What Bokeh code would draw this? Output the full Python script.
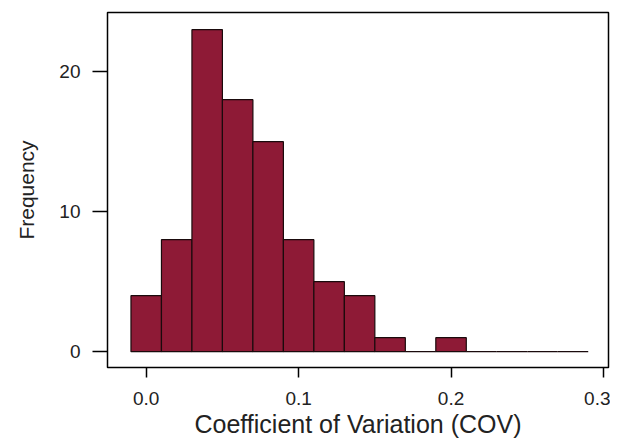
from bokeh.plotting import figure
from bokeh.models import Range1d, FixedTicker, ColumnDataSource
from bokeh.embed import file_html
from bokeh.resources import INLINE

# Histogram data (bin width 0.02)
bin_left = [-0.01, 0.01, 0.03, 0.05, 0.07, 0.09, 0.11, 0.13, 0.15, 0.17, 0.19, 0.21, 0.23, 0.25, 0.27]
bin_right = [0.01, 0.03, 0.05, 0.07, 0.09, 0.11, 0.13, 0.15, 0.17, 0.19, 0.21, 0.23, 0.25, 0.27, 0.29]
counts = [4, 8, 23, 18, 15, 8, 5, 4, 1, 0, 1, 0, 0, 0, 0]
x_ticks = [0.0, 0.1, 0.2, 0.3]
x_tick_labels = ["0.0", "0.1", "0.2", "0.3"]
y_ticks = [0, 10, 20]

FONT = "Liberation Sans"

p = figure(
    output_backend="svg", toolbar_location=None,
    frame_width=501, frame_height=355,
    min_border_left=107, min_border_right=2, min_border_top=12, min_border_bottom=70,
    x_range=Range1d(-0.0254, 0.3033), y_range=Range1d(-1.13, 24.23),
    background_fill_color="white", border_fill_color="white",
)
p.outline_line_color = "black"
p.outline_line_width = 1.5
p.xgrid.visible = False
p.ygrid.visible = False

src = ColumnDataSource(dict(left=bin_left, right=bin_right, top=counts, bottom=[0] * len(counts)))
p.quad(left="left", right="right", top="top", bottom="bottom", source=src,
       fill_color="#8e1a36", line_color="#1a0a0c", line_width=1.2)

p.xaxis.ticker = FixedTicker(ticks=x_ticks)
p.xaxis.major_label_overrides = {t: l for t, l in zip(x_ticks, x_tick_labels)}
p.yaxis.ticker = FixedTicker(ticks=y_ticks)

for ax in (p.xaxis[0], p.yaxis[0]):
    ax.axis_line_color = None
    ax.minor_tick_line_color = None
    ax.major_tick_in = 0
    ax.major_tick_line_color = "black"
    ax.major_tick_line_width = 1.5
    ax.major_label_text_font = FONT
    ax.major_label_text_font_size = "19px"
    ax.major_label_text_color = "#222222"
    ax.axis_label_text_font = FONT
    ax.axis_label_text_font_style = "normal"
    ax.axis_label_text_color = "#222222"

p.xaxis.major_tick_out = 10
p.yaxis.major_tick_out = 15
p.xaxis.major_label_standoff = 14
p.yaxis.major_label_standoff = 12
p.yaxis.major_label_orientation = "horizontal"

p.xaxis.axis_label = "Coefficient of Variation (COV)"
p.xaxis.axis_label_text_font_size = "25px"
p.xaxis.axis_label_standoff = 2
p.yaxis.axis_label = "Frequency"
p.yaxis.axis_label_text_font_size = "21px"
p.yaxis.axis_label_standoff = 18

open("out.html", "w").write(file_html(p, INLINE))
